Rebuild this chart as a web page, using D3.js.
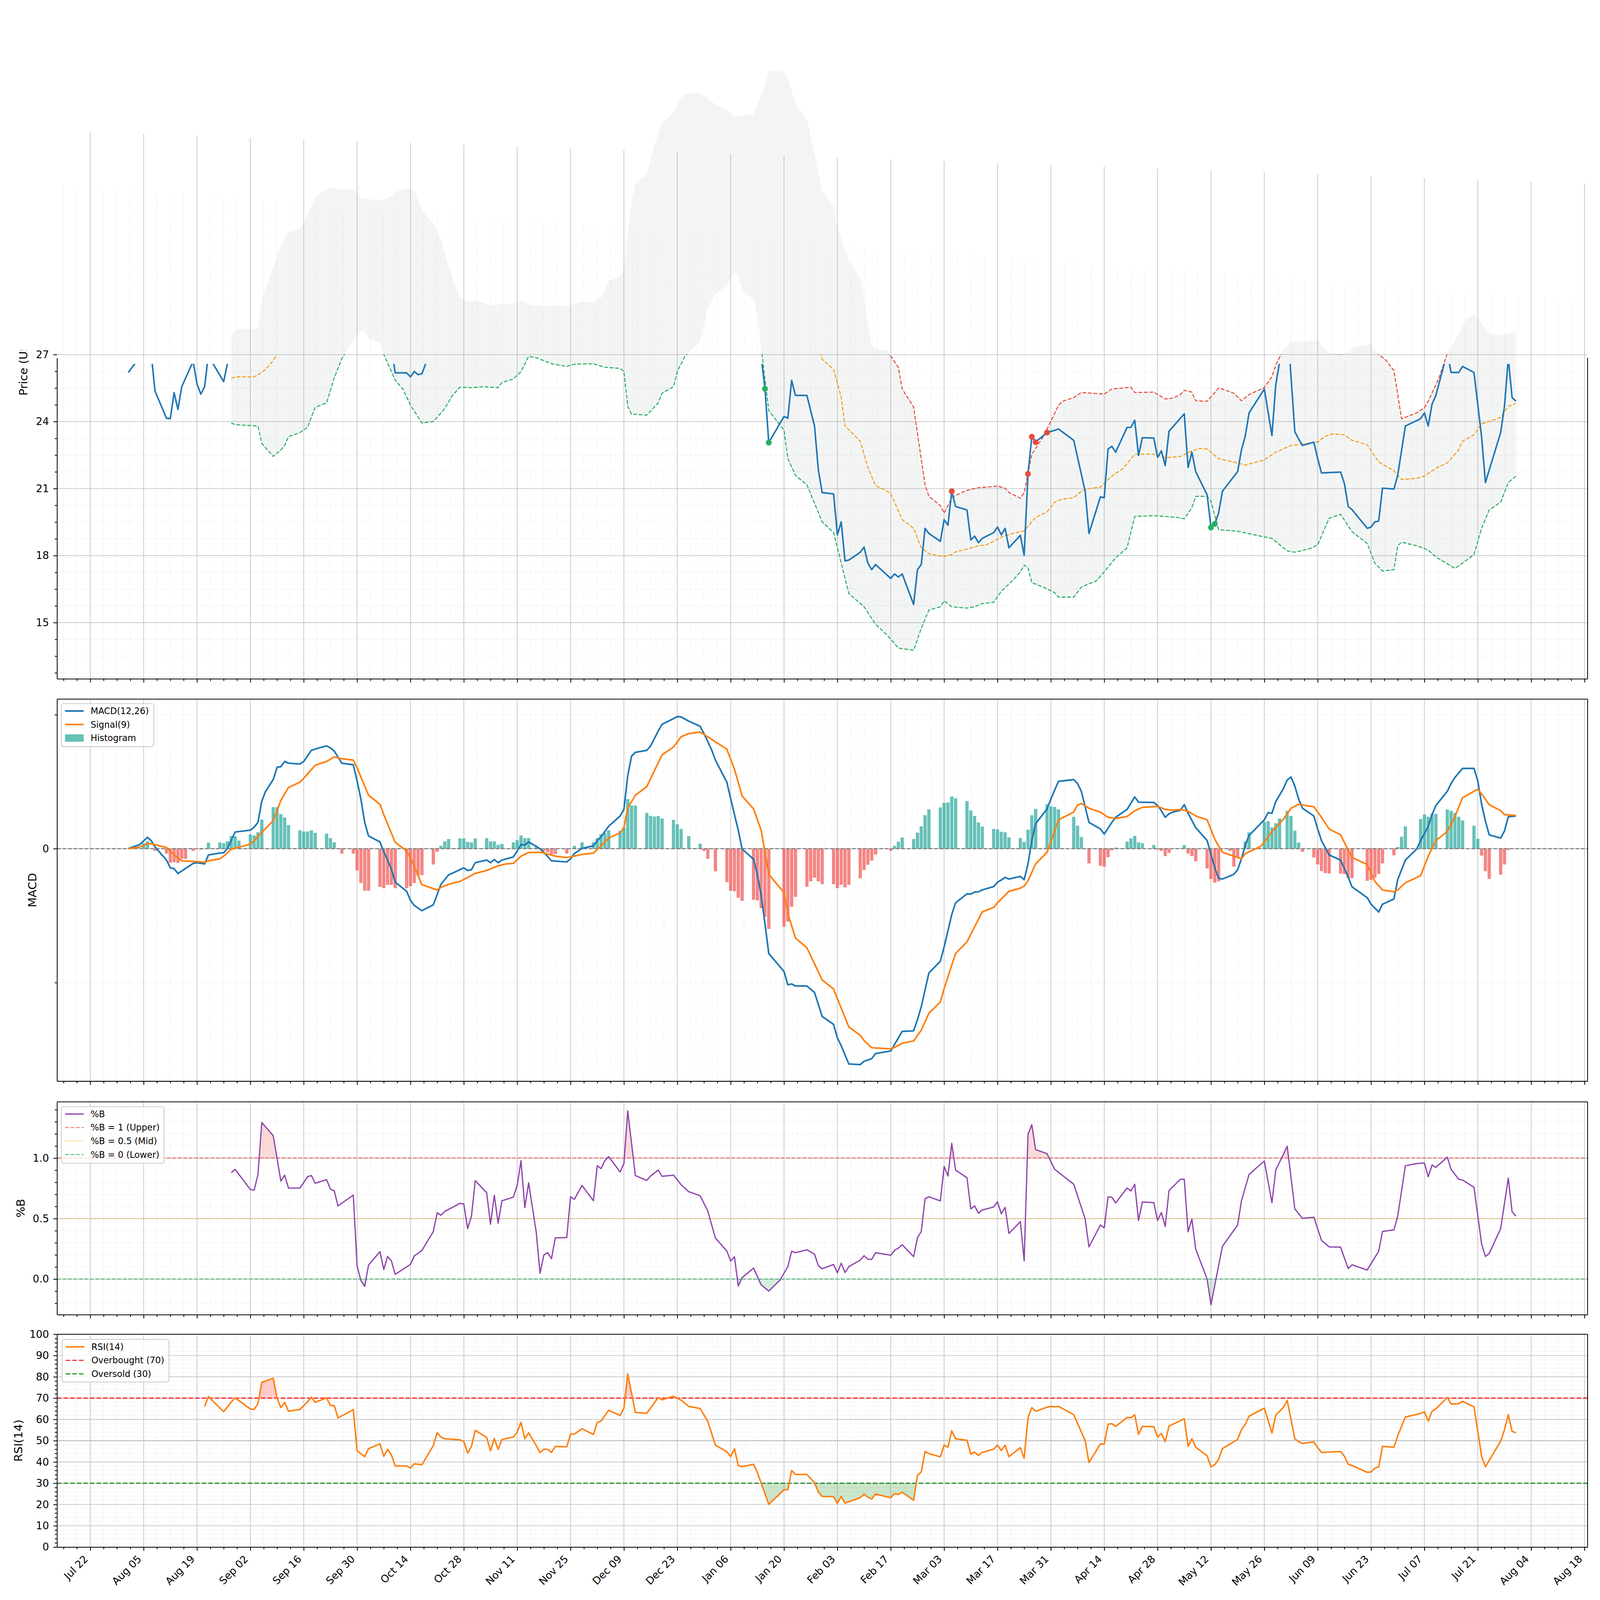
<!DOCTYPE html>
<html>
<head>
<meta charset="utf-8">
<title>Price, MACD, %B and RSI</title>
<script src="https://cdn.jsdelivr.net/npm/d3@7"></script>
<style>
  html, body { margin: 0; padding: 0; background: #fff; overflow: hidden; }
  svg { display: block; width: 100vw; height: 100vh; }
  text { font-family: "DejaVu Sans", sans-serif; }
</style>
</head>
<body>
<svg id="chart"></svg>
<script>
// every series is [day, value]; day counts from this Monday
const BASE_DATE = '2024-07-22'

const priceClose = [[10,26.20],[13,26.90],[16,27.00],[17,25.36],[20,24.15],[21,24.13],[22,25.30],[23,24.54],[24,25.56],[27,26.70],[28,25.69],[29,25.23],[30,25.56],[31,27.00],[32,26.65],[35,25.79],[36,26.60],[37,27.37],[38,27.73],[43,27.05],[44,27.57],[45,31.35],[48,32.20],[49,31.20],[50,30.00],[51,30.96],[52,30.20],[55,30.40],[57,31.84],[58,32.25],[59,32.10],[62,32.70],[63,32.20],[64,32.10],[65,31.20],[69,32.30],[70,28.60],[71,27.98],[72,27.75],[73,28.40],[76,28.95],[77,27.55],[78,28.00],[79,27.30],[80,26.18],[83,26.18],[84,26.00],[85,26.24],[86,26.10],[87,26.14],[90,27.50],[91,28.60],[92,28.35],[93,28.50],[97,28.00],[98,27.95],[99,27.14],[100,27.50],[101,28.70],[104,28.23],[105,27.26],[106,28.15],[107,27.23],[108,27.98],[111,28.19],[112,28.58],[113,29.37],[114,28.20],[115,28.75],[117,27.77],[118,26.92],[119,27.28],[120,27.30],[121,27.00],[122,27.45],[125,27.40],[126,28.36],[127,28.30],[129,28.73],[132,28.36],[133,29.30],[134,29.30],[135,29.83],[136,30.34],[139,30.00],[140,30.71],[141,36.90],[143,33.16],[146,33.09],[147,33.87],[149,35.40],[150,35.50],[153,36.10],[155,35.90],[157,35.45],[160,35.26],[162,34.30],[164,32.60],[167,31.90],[168,31.40],[169,31.96],[170,30.10],[171,30.00],[174,30.20],[176,26.90],[177,25.47],[178,23.06],[182,24.23],[183,24.15],[184,25.85],[185,25.17],[188,25.17],[190,23.80],[191,21.85],[192,20.82],[195,20.76],[196,18.93],[197,19.51],[198,17.76],[199,17.80],[202,18.15],[203,18.38],[204,17.66],[205,17.37],[206,17.60],[210,16.98],[211,17.18],[212,17.04],[213,17.18],[216,15.81],[217,17.37],[218,17.60],[219,19.22],[220,18.99],[223,18.64],[224,19.61],[225,19.36],[226,20.88],[227,20.20],[230,20.04],[231,18.70],[232,18.87],[233,18.58],[234,18.77],[237,19.03],[238,19.28],[239,18.93],[240,19.22],[241,18.35],[244,18.91],[245,18.01],[246,21.66],[247,23.32],[248,23.08],[251,23.51],[253,23.61],[254,23.67],[258,23.16],[261,20.88],[262,18.99],[265,20.63],[266,20.59],[267,22.77],[268,22.89],[269,22.63],[272,23.74],[273,23.74],[274,24.06],[275,22.48],[276,23.28],[279,23.26],[280,22.40],[281,22.69],[282,22.03],[283,23.57],[287,24.35],[288,21.95],[289,22.63],[290,21.76],[293,20.72],[294,19.26],[295,19.42],[296,19.90],[297,20.88],[301,21.76],[302,22.73],[303,23.35],[304,24.39],[308,25.46],[310,23.37],[311,25.65],[313,27.67],[314,28.50],[316,23.55],[317,23.22],[318,22.93],[321,23.08],[322,22.34],[323,21.70],[328,21.74],[329,21.23],[330,20.20],[331,20.06],[335,19.22],[336,19.28],[337,19.51],[338,19.55],[339,21.02],[342,20.98],[343,21.60],[345,23.80],[349,24.13],[350,24.39],[351,23.80],[352,24.78],[353,25.17],[356,27.10],[357,26.20],[359,26.20],[360,26.47],[363,26.20],[365,23.32],[366,21.27],[370,23.51],[371,24.68],[372,26.84],[373,25.07],[374,24.92]]

const upperBand = [[37,27.84],[38,28.13],[44,28.17],[45,29.46],[48,30.92],[51,32.28],[52,32.48],[55,32.67],[57,33.26],[59,34.04],[63,34.52],[65,34.39],[69,34.39],[71,34.00],[72,34.00],[76,33.88],[79,34.10],[80,34.29],[83,34.43],[85,34.33],[87,33.45],[90,32.87],[92,32.19],[94,30.92],[97,29.55],[99,29.40],[101,29.42],[105,29.22],[112,29.30],[113,29.44],[115,29.22],[122,29.18],[125,29.18],[129,29.36],[132,29.32],[134,29.55],[136,30.29],[139,30.49],[140,30.92],[142,33.84],[143,34.66],[146,35.07],[148,36.38],[150,37.35],[153,37.84],[155,38.52],[157,38.72],[160,38.72],[164,38.19],[167,37.94],[169,37.64],[170,37.70],[174,37.74],[175,38.19],[177,39.01],[178,39.69],[181,39.69],[182,39.59],[183,39.40],[185,38.23],[188,37.55],[190,35.99],[192,34.29],[195,33.65],[196,32.67],[199,31.21],[202,30.43],[204,28.48],[205,27.41],[206,27.25],[209,27.18],[212,26.43],[213,25.46],[216,24.64],[219,21.17],[220,20.66],[223,20.24],[224,19.90],[226,20.59],[228,20.78],[230,20.92],[233,21.04],[238,21.11],[240,21.02],[241,20.82],[244,20.57],[245,20.82],[247,22.54],[250,23.32],[254,24.72],[255,24.91],[258,25.07],[260,25.30],[263,25.27],[266,25.23],[268,25.46],[273,25.54],[274,25.30],[279,25.32],[282,25.01],[284,25.05],[286,25.21],[287,25.40],[289,25.32],[290,24.93],[293,24.91],[296,25.50],[297,25.46],[300,25.27],[302,24.93],[304,25.21],[308,25.52],[310,26.01],[311,26.53],[313,27.21],[315,27.60],[317,27.57],[322,27.64],[324,27.21],[325,27.06],[328,27.02],[330,27.12],[331,27.31],[336,27.47],[337,27.16],[340,26.73],[342,26.28],[344,24.13],[348,24.39],[350,24.62],[351,24.91],[353,25.65],[354,26.04],[356,27.06],[358,27.60],[361,28.58],[363,28.81],[365,28.42],[367,27.96],[370,27.84],[372,27.96],[374,27.99]]

const middleBand = [[37,25.93],[38,26.00],[43,26.00],[44,26.10],[46,26.34],[47,26.53],[48,26.73],[52,27.85],[56,28.30],[60,29.45],[64,30.20],[70,31.05],[76,30.70],[80,30.10],[84,29.55],[88,28.60],[92,28.25],[96,27.45],[100,27.45],[106,27.35],[112,27.75],[118,28.00],[125,27.83],[132,27.95],[138,28.40],[141,28.60],[146,29.68],[150,31.30],[155,32.50],[160,33.20],[165,34.00],[170,34.10],[175,33.50],[178,32.10],[182,31.60],[185,29.90],[188,29.40],[190,28.20],[192,26.79],[195,26.34],[197,25.10],[198,23.80],[200,23.47],[202,23.12],[204,21.95],[206,21.13],[208,20.98],[210,20.78],[213,19.61],[216,19.22],[218,18.35],[220,18.09],[222,18.01],[224,17.96],[226,18.05],[227,18.17],[230,18.29],[233,18.44],[235,18.48],[237,18.64],[239,18.83],[242,18.99],[245,19.11],[248,19.71],[251,19.96],[253,20.39],[255,20.53],[258,20.59],[260,20.88],[262,21.00],[265,21.07],[268,21.56],[271,21.91],[274,22.54],[279,22.54],[282,22.38],[286,22.44],[289,22.69],[291,22.79],[293,22.77],[296,22.34],[300,22.19],[303,22.05],[306,22.19],[308,22.28],[311,22.63],[315,22.93],[322,23.08],[324,23.35],[326,23.45],[329,23.41],[331,23.16],[335,22.96],[338,22.19],[342,21.80],[344,21.41],[348,21.46],[350,21.56],[353,21.91],[356,22.15],[359,22.73],[360,23.12],[363,23.41],[365,23.90],[368,24.06],[370,24.19],[372,24.68],[374,24.82]]

const lowerBand = [[37,23.94],[38,23.86],[44,23.80],[45,23.02],[48,22.44],[50,22.73],[51,22.93],[52,23.32],[55,23.51],[57,23.74],[59,24.64],[62,24.84],[64,25.95],[66,26.82],[69,27.60],[70,27.90],[71,28.05],[72,28.10],[73,27.70],[76,27.50],[77,27.00],[78,26.63],[80,25.85],[82,25.46],[84,24.74],[87,23.94],[90,24.00],[93,24.58],[95,25.17],[97,25.54],[100,25.52],[103,25.56],[107,25.52],[108,25.75],[111,25.91],[113,26.24],[115,26.92],[117,26.86],[121,26.59],[125,26.47],[127,26.57],[132,26.59],[135,26.43],[139,26.38],[140,26.24],[141,24.68],[142,24.33],[146,24.29],[149,24.84],[150,25.27],[153,25.56],[154,26.24],[156,26.92],[160,27.60],[162,29.07],[164,29.71],[167,30.10],[169,30.68],[170,30.53],[171,29.90],[174,29.46],[175,28.77],[176,27.30],[177,25.90],[178,24.49],[182,23.61],[183,22.34],[185,21.59],[188,21.17],[192,19.51],[195,19.03],[197,17.66],[199,16.30],[203,15.71],[206,14.93],[209,14.45],[212,13.86],[216,13.76],[218,14.74],[220,15.56],[223,15.71],[224,15.97],[226,15.71],[230,15.65],[232,15.71],[234,15.85],[237,15.91],[239,16.40],[242,16.89],[244,17.27],[245,17.57],[246,17.47],[247,16.79],[250,16.59],[253,16.34],[254,16.14],[258,16.14],[260,16.59],[264,16.88],[266,17.27],[269,17.90],[272,18.35],[274,19.75],[279,19.79],[285,19.71],[287,19.65],[289,20.14],[290,20.65],[293,20.66],[294,20.43],[296,19.16],[301,19.09],[307,18.87],[310,18.77],[314,18.21],[316,18.15],[320,18.31],[322,18.48],[325,19.67],[328,19.85],[331,19.07],[335,18.54],[337,17.66],[339,17.31],[342,17.37],[343,18.44],[344,18.60],[348,18.44],[351,18.25],[353,17.94],[358,17.43],[360,17.66],[363,18.05],[365,19.22],[367,20.04],[370,20.39],[372,21.27],[374,21.56]]

const sellSignals = [[226,20.88],[246,21.66],[247,23.32],[248,23.08],[251,23.51]]
const buySignals = [[177,25.47],[178,23.06],[294,19.26],[295,19.42]]

const macdLine = [[10,0],[13,0.031],[15,0.085],[16,0.060],[17,0.012],[20,-0.085],[21,-0.143],[22,-0.149],[23,-0.186],[27,-0.110],[28,-0.105],[30,-0.114],[31,-0.047],[34,-0.033],[35,-0.031],[36,0.002],[38,0.124],[42,0.138],[43,0.161],[44,0.196],[45,0.355],[46,0.428],[48,0.516],[49,0.607],[50,0.612],[51,0.651],[52,0.638],[55,0.632],[56,0.651],[58,0.734],[60,0.752],[62,0.767],[63,0.752],[64,0.729],[66,0.638],[69,0.626],[70,0.506],[71,0.370],[72,0.196],[73,0.095],[76,0.050],[77,-0.023],[78,-0.085],[79,-0.153],[80,-0.250],[83,-0.318],[84,-0.386],[85,-0.424],[87,-0.463],[90,-0.419],[91,-0.343],[92,-0.266],[94,-0.196],[97,-0.157],[98,-0.143],[99,-0.163],[100,-0.157],[101,-0.105],[104,-0.085],[105,-0.105],[106,-0.081],[107,-0.105],[108,-0.085],[111,-0.062],[112,-0.017],[113,0.031],[114,0.027],[115,0.050],[117,0.017],[118,-0.002],[119,-0.027],[121,-0.091],[125,-0.099],[126,-0.076],[127,-0.037],[129,0.002],[132,0.021],[133,0.060],[134,0.089],[135,0.128],[136,0.167],[139,0.244],[140,0.293],[141,0.545],[142,0.690],[143,0.719],[146,0.734],[147,0.767],[149,0.878],[150,0.928],[153,0.971],[154,0.986],[155,0.983],[157,0.952],[160,0.913],[161,0.859],[163,0.738],[164,0.661],[167,0.496],[168,0.374],[169,0.254],[170,0.138],[171,-0.002],[174,-0.079],[175,-0.192],[176,-0.347],[177,-0.560],[178,-0.783],[182,-0.917],[183,-1.016],[184,-1.010],[185,-1.025],[188,-1.025],[190,-1.074],[192,-1.252],[195,-1.312],[196,-1.413],[197,-1.471],[199,-1.607],[202,-1.612],[203,-1.587],[205,-1.568],[206,-1.529],[210,-1.510],[211,-1.461],[213,-1.364],[216,-1.360],[217,-1.277],[218,-1.180],[220,-0.928],[223,-0.841],[224,-0.734],[226,-0.492],[227,-0.405],[230,-0.337],[231,-0.339],[232,-0.324],[233,-0.322],[234,-0.308],[237,-0.283],[238,-0.250],[239,-0.234],[240,-0.215],[241,-0.227],[244,-0.207],[245,-0.231],[246,-0.114],[247,0.060],[248,0.186],[251,0.297],[252,0.370],[253,0.438],[254,0.502],[258,0.516],[259,0.486],[260,0.428],[262,0.196],[265,0.147],[266,0.109],[268,0.196],[269,0.234],[272,0.293],[274,0.386],[275,0.347],[279,0.345],[280,0.322],[281,0.283],[282,0.234],[283,0.260],[284,0.273],[286,0.287],[287,0.328],[288,0.264],[290,0.157],[293,0.060],[295,-0.143],[296,-0.221],[297,-0.227],[300,-0.192],[301,-0.157],[302,-0.076],[303,0.025],[304,0.099],[308,0.215],[309,0.269],[310,0.264],[311,0.351],[313,0.448],[314,0.512],[315,0.535],[316,0.467],[317,0.370],[318,0.302],[321,0.244],[322,0.147],[323,0.060],[325,-0.047],[328,-0.085],[330,-0.211],[331,-0.285],[335,-0.366],[336,-0.415],[338,-0.473],[339,-0.415],[342,-0.376],[343,-0.231],[345,-0.085],[348,-0.002],[349,0.060],[351,0.167],[352,0.254],[353,0.322],[356,0.428],[357,0.486],[358,0.531],[360,0.599],[363,0.599],[364,0.506],[365,0.331],[366,0.205],[367,0.103],[370,0.079],[371,0.132],[372,0.238],[374,0.244]]

const signalLine = [[10,0],[13,0.012],[15,0.037],[16,0.037],[20,0.008],[22,-0.047],[24,-0.091],[27,-0.095],[30,-0.101],[31,-0.091],[34,-0.076],[35,-0.056],[37,-0.004],[39,0.012],[42,0.033],[43,0.060],[45,0.122],[48,0.209],[49,0.283],[50,0.360],[52,0.457],[55,0.496],[56,0.525],[59,0.622],[62,0.651],[64,0.684],[66,0.671],[69,0.661],[70,0.603],[73,0.399],[76,0.331],[77,0.254],[80,0.047],[83,-0.017],[84,-0.066],[87,-0.269],[91,-0.308],[92,-0.289],[94,-0.266],[97,-0.244],[99,-0.215],[101,-0.184],[104,-0.163],[107,-0.128],[109,-0.114],[111,-0.110],[113,-0.056],[115,-0.029],[118,-0.027],[119,-0.033],[122,-0.056],[125,-0.066],[127,-0.056],[129,-0.043],[132,-0.033],[134,0.021],[136,0.079],[139,0.118],[140,0.157],[141,0.302],[143,0.399],[146,0.463],[149,0.641],[150,0.700],[153,0.758],[155,0.835],[157,0.859],[160,0.870],[162,0.835],[167,0.742],[169,0.593],[171,0.393],[174,0.297],[176,0.138],[178,-0.192],[182,-0.328],[183,-0.483],[185,-0.667],[188,-0.740],[190,-0.860],[192,-0.980],[195,-1.048],[197,-1.190],[199,-1.331],[202,-1.393],[203,-1.432],[205,-1.486],[210,-1.494],[211,-1.484],[213,-1.452],[216,-1.436],[218,-1.355],[220,-1.229],[223,-1.145],[224,-1.045],[227,-0.783],[230,-0.696],[231,-0.638],[234,-0.473],[237,-0.438],[238,-0.405],[241,-0.318],[244,-0.295],[245,-0.279],[246,-0.240],[248,-0.114],[251,-0.027],[252,0.050],[254,0.215],[258,0.273],[259,0.326],[260,0.337],[262,0.302],[265,0.273],[267,0.234],[269,0.225],[272,0.240],[274,0.283],[276,0.308],[280,0.316],[282,0.293],[284,0.287],[286,0.293],[288,0.279],[290,0.244],[293,0.215],[295,0.070],[297,-0.027],[300,-0.056],[302,-0.076],[303,-0.037],[307,0.016],[308,0.050],[310,0.128],[313,0.219],[315,0.302],[317,0.331],[321,0.312],[323,0.234],[325,0.147],[328,0.103],[331,-0.066],[335,-0.118],[337,-0.244],[339,-0.308],[342,-0.322],[343,-0.308],[345,-0.254],[349,-0.202],[351,-0.056],[353,0.060],[356,0.128],[358,0.238],[360,0.380],[363,0.428],[364,0.444],[365,0.409],[367,0.328],[370,0.283],[371,0.254],[374,0.248]]

const macdHist = [[14,0.041],[15,0.054],[17,-0.017],[20,-0.037],[21,-0.105],[22,-0.101],[23,-0.107],[24,-0.076],[25,-0.076],[27,-0.017],[29,-0.008],[31,0.045],[34,0.047],[35,0.041],[36,0.056],[37,0.095],[38,0.093],[39,0.060],[42,0.105],[43,0.099],[44,0.122],[45,0.217],[48,0.310],[49,0.310],[50,0.258],[51,0.233],[52,0.176],[55,0.137],[56,0.128],[57,0.128],[58,0.137],[59,0.118],[62,0.112],[63,0.079],[64,0.048],[66,-0.037],[69,-0.037],[70,-0.163],[71,-0.256],[72,-0.314],[73,-0.314],[76,-0.285],[77,-0.295],[78,-0.270],[79,-0.270],[80,-0.295],[83,-0.295],[84,-0.279],[85,-0.256],[86,-0.202],[87,-0.198],[90,-0.118],[91,-0.023],[92,0.021],[93,0.054],[94,0.072],[97,0.076],[98,0.076],[99,0.050],[100,0.047],[101,0.076],[104,0.079],[105,0.054],[106,0.054],[107,0.029],[108,0.035],[111,0.047],[112,0.064],[113,0.099],[114,0.079],[115,0.079],[117,0.021],[119,-0.017],[120,-0.027],[121,-0.041],[122,-0.041],[125,-0.037],[127,0.021],[129,0.047],[132,0.048],[133,0.079],[134,0.108],[135,0.118],[136,0.137],[139,0.133],[140,0.157],[141,0.370],[142,0.322],[143,0.322],[146,0.267],[147,0.244],[148,0.240],[149,0.244],[150,0.225],[153,0.215],[154,0.182],[155,0.147],[157,0.093],[160,0.037],[161,-0.017],[162,-0.076],[164,-0.169],[167,-0.250],[168,-0.314],[169,-0.318],[170,-0.366],[171,-0.390],[174,-0.382],[175,-0.386],[176,-0.444],[177,-0.508],[178,-0.599],[182,-0.583],[183,-0.545],[184,-0.434],[185,-0.360],[188,-0.285],[189,-0.244],[190,-0.217],[191,-0.244],[192,-0.265],[195,-0.265],[196,-0.295],[197,-0.270],[198,-0.289],[199,-0.270],[202,-0.221],[203,-0.159],[204,-0.120],[205,-0.089],[206,-0.043],[210,-0.017],[211,0.021],[212,0.052],[213,0.083],[216,0.072],[217,0.120],[218,0.167],[219,0.250],[220,0.293],[223,0.308],[224,0.341],[225,0.345],[226,0.390],[227,0.376],[230,0.355],[231,0.285],[232,0.244],[233,0.196],[234,0.165],[237,0.147],[238,0.143],[239,0.126],[240,0.122],[241,0.085],[244,0.079],[245,0.050],[246,0.141],[247,0.250],[248,0.297],[251,0.331],[252,0.316],[253,0.312],[254,0.293],[258,0.238],[259,0.171],[260,0.087],[262,-0.110],[265,-0.128],[266,-0.134],[267,-0.064],[268,-0.012],[269,0.008],[272,0.052],[273,0.076],[274,0.095],[275,0.047],[276,0.041],[279,0.027],[280,-0.008],[281,-0.017],[282,-0.056],[283,-0.031],[286,0.002],[287,0.027],[288,-0.037],[289,-0.056],[290,-0.095],[293,-0.147],[294,-0.227],[295,-0.254],[296,-0.244],[299,-0.017],[300,-0.134],[301,-0.066],[303,0.054],[304,0.122],[308,0.200],[309,0.205],[310,0.159],[311,0.190],[312,0.225],[314,0.283],[315,0.244],[316,0.134],[317,0.045],[318,-0.023],[321,-0.066],[322,-0.118],[323,-0.167],[324,-0.182],[325,-0.186],[328,-0.186],[329,-0.190],[330,-0.221],[331,-0.221],[335,-0.240],[336,-0.234],[337,-0.217],[338,-0.188],[339,-0.110],[342,-0.050],[343,0.012],[344,0.089],[345,0.166],[349,0.221],[350,0.254],[351,0.238],[352,0.260],[353,0.260],[356,0.292],[357,0.283],[358,0.267],[359,0.238],[360,0.211],[363,0.171],[364,0.074],[365,-0.052],[366,-0.168],[367,-0.226],[370,-0.194],[371,-0.118],[372,-0.010]]

const percentB = [[37,0.879],[38,0.907],[42,0.740],[43,0.735],[44,0.865],[45,1.294],[48,1.185],[49,0.998],[50,0.810],[51,0.859],[52,0.752],[55,0.752],[57,0.846],[58,0.856],[59,0.792],[62,0.822],[63,0.744],[64,0.729],[65,0.605],[69,0.694],[70,0.109],[71,-0.012],[72,-0.060],[73,0.115],[76,0.227],[77,0.079],[78,0.187],[79,0.151],[80,0.039],[84,0.121],[85,0.191],[87,0.236],[90,0.393],[91,0.547],[92,0.528],[93,0.559],[97,0.626],[98,0.620],[99,0.417],[100,0.520],[101,0.813],[104,0.713],[105,0.453],[106,0.692],[107,0.462],[108,0.647],[111,0.677],[112,0.774],[113,0.979],[114,0.590],[115,0.796],[117,0.387],[118,0.048],[119,0.200],[120,0.218],[121,0.169],[122,0.341],[125,0.343],[126,0.680],[127,0.659],[129,0.774],[132,0.647],[133,0.937],[134,0.913],[135,0.979],[136,1.012],[139,0.885],[140,0.955],[141,1.390],[143,0.855],[146,0.816],[147,0.852],[149,0.901],[150,0.849],[153,0.859],[155,0.780],[157,0.722],[160,0.689],[162,0.562],[164,0.339],[167,0.232],[168,0.149],[169,0.184],[170,-0.058],[171,0.012],[174,0.091],[176,-0.048],[178,-0.099],[181,-0.006],[183,0.103],[184,0.230],[185,0.218],[188,0.242],[190,0.206],[191,0.111],[192,0.085],[195,0.121],[196,0.052],[197,0.131],[198,0.054],[199,0.103],[202,0.157],[203,0.193],[204,0.163],[205,0.163],[206,0.218],[210,0.197],[211,0.238],[212,0.256],[213,0.284],[216,0.185],[217,0.342],[218,0.393],[219,0.665],[220,0.680],[223,0.646],[224,0.931],[225,0.852],[226,1.122],[227,0.901],[230,0.837],[231,0.580],[232,0.605],[233,0.544],[234,0.571],[237,0.596],[238,0.638],[239,0.540],[240,0.592],[241,0.377],[244,0.475],[245,0.151],[246,1.197],[247,1.276],[248,1.070],[251,1.037],[253,0.907],[258,0.784],[261,0.496],[262,0.266],[265,0.447],[266,0.423],[267,0.680],[268,0.677],[269,0.629],[272,0.753],[273,0.728],[274,0.784],[275,0.484],[276,0.637],[279,0.632],[280,0.484],[281,0.550],[282,0.435],[283,0.732],[286,0.825],[287,0.825],[288,0.391],[289,0.496],[290,0.248],[293,-0.001],[294,-0.212],[297,0.270],[301,0.447],[302,0.647],[304,0.865],[308,0.976],[310,0.631],[311,0.901],[314,1.098],[316,0.580],[318,0.502],[321,0.511],[323,0.320],[325,0.266],[328,0.264],[330,0.087],[331,0.118],[335,0.075],[338,0.230],[339,0.393],[342,0.407],[343,0.520],[345,0.937],[348,0.955],[350,0.959],[351,0.846],[352,0.943],[353,0.923],[356,1.008],[357,0.907],[359,0.825],[360,0.819],[363,0.759],[365,0.290],[366,0.187],[367,0.212],[370,0.417],[372,0.834],[373,0.556],[374,0.520]]

const rsi14 = [[30,66.1],[31,70.7],[35,63.6],[37,68.2],[38,70.1],[42,64.9],[43,64.7],[44,67.4],[45,77.4],[48,79.3],[49,70.1],[50,65.5],[51,68.0],[52,63.8],[55,64.7],[57,68.2],[58,70.5],[59,68.0],[62,70.1],[63,66.5],[64,66.5],[65,60.7],[69,64.6],[70,45.2],[72,42.5],[73,46.2],[76,48.5],[77,42.7],[78,45.9],[79,43.3],[80,38.1],[83,38.1],[84,37.2],[85,39.1],[87,38.7],[90,47.7],[91,53.7],[92,51.7],[93,50.9],[97,50.4],[98,49.6],[99,44.2],[100,47.3],[101,54.8],[104,51.5],[105,45.2],[106,51.0],[107,45.9],[108,50.6],[111,51.7],[112,54.0],[113,58.6],[114,50.9],[115,53.7],[117,47.7],[118,44.4],[119,46.0],[120,45.9],[121,44.5],[122,47.3],[125,47.1],[126,53.1],[127,53.1],[129,55.6],[132,52.9],[133,58.6],[134,59.2],[136,64.3],[139,61.8],[140,65.3],[141,81.4],[143,63.2],[146,62.9],[149,70.3],[150,69.2],[153,70.9],[155,69.0],[157,66.1],[160,65.1],[162,59.0],[164,47.9],[167,44.8],[168,42.5],[169,46.2],[170,38.3],[171,37.8],[174,38.9],[175,35.1],[178,20.1],[182,26.9],[183,26.9],[184,36.0],[185,34.1],[188,34.1],[190,30.3],[191,25.9],[192,23.8],[195,23.7],[196,20.5],[197,23.8],[198,20.7],[199,21.3],[202,23.2],[203,24.9],[204,23.4],[205,22.6],[206,24.9],[210,23.2],[211,25.1],[212,24.7],[213,25.8],[216,22.0],[217,33.6],[218,35.3],[219,44.9],[220,43.9],[223,42.4],[224,47.9],[225,46.9],[226,54.6],[227,50.9],[230,50.2],[231,43.7],[232,44.6],[233,43.1],[234,44.5],[237,46.0],[238,47.9],[239,45.4],[240,47.9],[241,42.5],[244,46.7],[245,41.7],[246,60.7],[247,65.5],[248,63.8],[251,65.7],[252,66.1],[253,65.9],[254,66.1],[258,62.2],[261,50.0],[262,39.7],[265,48.5],[266,48.4],[267,57.7],[268,58.0],[269,56.7],[272,60.9],[273,60.8],[274,62.2],[275,53.0],[276,56.7],[279,56.6],[280,51.7],[281,53.4],[282,49.5],[283,56.9],[286,59.4],[287,60.3],[288,47.4],[289,50.9],[290,46.9],[293,42.9],[294,37.7],[295,38.7],[296,41.2],[297,46.3],[301,50.6],[302,55.2],[303,57.7],[304,61.5],[308,65.3],[310,53.6],[311,61.9],[313,65.7],[314,68.9],[316,50.9],[317,49.5],[318,48.7],[321,49.4],[322,46.7],[323,44.5],[328,44.9],[329,42.7],[330,38.9],[331,38.3],[335,35.1],[336,35.3],[337,37.1],[338,37.7],[339,47.3],[342,46.9],[343,52.3],[345,61.1],[349,62.8],[350,63.6],[351,59.2],[352,63.8],[353,64.9],[356,70.3],[357,67.2],[359,67.4],[360,68.5],[363,65.9],[365,42.7],[366,37.7],[370,49.8],[371,55.1],[372,62.2],[373,54.4],[374,53.7]]

const priceTicks = [15, 18, 21, 24, 27]
const pctBTicks = [0, 0.5, 1]
const rsiTicks = [0, 10, 20, 30, 40, 50, 60, 70, 80, 90, 100]


const W = 4378, H = 4323
const left = 156, right = 4344
const base = Date.parse(BASE_DATE + 'T00:00:00Z')
const toDate = d => new Date(base + d * 864e5)

// every second Monday, with four minor steps between
const majorDates = d3.range(0, 393, 14).map(toDate)
const minorDates = d3.range(-7, 393, 3.5).filter(d => d % 14 !== 0).map(toDate)

let scX = d3.scaleUtc()
  .domain([toDate(-8.72), toDate(392.8)])
  .range([left, right])

const price = { top: 967, bottom: 1834, y: d3.scaleLinear().domain([12.485, 26.851]).range([1834, 967]) }
const macd = { top: 1889, bottom: 2921, y: d3.scaleLinear().domain([-1.735, 1.116]).range([2921, 1889]) }
const pctb = { top: 2977, bottom: 3552, y: d3.scaleLinear().domain([-0.294, 1.465]).range([3552, 2977]) }
const rsi = { top: 3605, bottom: 4180, y: d3.scaleLinear().domain([0, 100]).range([4180, 3605]) }

const GRID = '#cccccc', GRID_MINOR = '#dadada'

let svg = d3.select('#chart')
  .attr('viewBox', `0 0 ${W} ${H}`)
  .attr('preserveAspectRatio', 'none')
  .style('background-color', '#fff')

const defs = svg.append('defs')
const clipRect = (id, x, y, w, h) => defs.append('clipPath').attr('id', id)
  .append('rect').attr('x', x).attr('y', y).attr('width', w).attr('height', h)

clipRect('clip-price-line', left, 983, right - left, price.bottom - 983)
clipRect('clip-price-bands', left, 957, right - left, price.bottom - 957)
clipRect('clip-price-label', 0, 946, left, price.bottom - 946)
for (const [id, p] of [['macd', macd], ['pctb', pctb], ['rsi', rsi]]) {
  clipRect('clip-' + id, left, p.top, right - left, p.bottom - p.top)
}
clipRect('clip-pctb-up', left, pctb.top, right - left, pctb.y(1) - pctb.top)
clipRect('clip-pctb-down', left, pctb.y(0), right - left, pctb.bottom - pctb.y(0))
clipRect('clip-rsi-up', left, rsi.top, right - left, rsi.y(70) - rsi.top)
clipRect('clip-rsi-down', left, rsi.y(30), right - left, rsi.bottom - rsi.y(30))

const lineOf = p => d3.line().x(d => scX(toDate(d[0]))).y(d => p.y(d[1]))

function verticalGrid(g, p, majorTop, minorTop) {
  g.append('g').selectAll('line').data(minorDates).join('line')
    .attr('x1', d => scX(d)).attr('x2', d => scX(d))
    .attr('y1', d => minorTop ? minorTop(scX(d)) : p.top)
    .attr('y2', p.bottom)
    .attr('stroke', GRID_MINOR).attr('stroke-width', 1.4).attr('stroke-dasharray', '1.4,2.8')
  g.append('g').selectAll('line').data(majorDates).join('line')
    .attr('x1', d => scX(d)).attr('x2', d => scX(d))
    .attr('y1', d => majorTop ? majorTop(scX(d)) : p.top)
    .attr('y2', p.bottom)
    .attr('stroke', GRID).attr('stroke-width', 2.2)
}

function horizontalGrid(g, p, majors, minors) {
  g.append('g').selectAll('line').data(minors).join('line')
    .attr('x1', left).attr('x2', right)
    .attr('y1', d => p.y(d)).attr('y2', d => p.y(d))
    .attr('stroke', GRID_MINOR).attr('stroke-width', 1.4).attr('stroke-dasharray', '1.4,2.8')
  g.append('g').selectAll('line').data(majors).join('line')
    .attr('x1', left).attr('x2', right)
    .attr('y1', d => p.y(d)).attr('y2', d => p.y(d))
    .attr('stroke', GRID).attr('stroke-width', 2.2)
}

function axes(g, p, yMajor, yMinor, fmt, opts) {
  const styleAxis = a => {
    a.attr('font-size', 28).attr('font-family', '"DejaVu Sans", sans-serif')
    a.selectAll('line').attr('stroke-width', 2.2)
    a.select('.domain').attr('stroke-width', 2.2)
  }
  g.append('g').attr('transform', `translate(${left},0)`)
    .call(d3.axisLeft(p.y).tickValues(yMajor).tickFormat(fmt).tickSize(10).tickPadding(12).tickSizeOuter(0))
    .call(styleAxis)
  g.append('g').attr('transform', `translate(${left},0)`)
    .call(d3.axisLeft(p.y).tickValues(yMinor).tickFormat('').tickSize(6).tickSizeOuter(0))
    .call(styleAxis).call(a => a.select('.domain').remove())

  let xAx = g.append('g').attr('transform', `translate(0,${p.bottom})`)
    .call(d3.axisBottom(scX).tickValues(majorDates)
      .tickFormat(opts.labels ? d3.utcFormat('%b %d') : '').tickSize(10).tickSizeOuter(0))
    .call(styleAxis)
  if (opts.labels) {
    xAx.selectAll('text')
      .attr('y', 0).attr('dy', 0)
      .attr('text-anchor', 'end')
      .attr('transform', 'translate(-5,34) rotate(-45)')
  }
  g.append('g').attr('transform', `translate(0,${p.bottom})`)
    .call(d3.axisBottom(scX).tickValues(minorDates).tickFormat('').tickSize(6).tickSizeOuter(0))
    .call(styleAxis).call(a => a.select('.domain').remove())

  g.append('line').attr('x1', right).attr('x2', right).attr('y1', p.top).attr('y2', p.bottom)
    .attr('stroke', '#000').attr('stroke-width', 2.2)
  if (opts.top) {
    g.append('line').attr('x1', left).attr('x2', right).attr('y1', p.top).attr('y2', p.top)
      .attr('stroke', '#000').attr('stroke-width', 2.2)
  }
}

function yLabel(g, p, x, text, clip) {
  // the clip sits on a wrapper so it is not rotated with the text
  g.append('g').attr('clip-path', clip || null)
    .append('text')
    .attr('transform', `translate(${x},${(p.top + p.bottom) / 2}) rotate(-90)`)
    .attr('text-anchor', 'middle').attr('dy', '0.35em')
    .attr('font-size', 31)
    .text(text)
}

function legend(g, x, y, w, h, items) {
  const lg = g.append('g')
  lg.append('rect').attr('x', x).attr('y', y).attr('width', w).attr('height', h).attr('rx', 6)
    .attr('fill', '#fff').attr('fill-opacity', 0.8).attr('stroke', '#cccccc').attr('stroke-width', 2.2)
  items.forEach((it, i) => {
    const cy = y + 20 + i * 36.5
    if (it.patch) {
      lg.append('rect').attr('x', x + 10).attr('y', cy - 10).attr('width', 51).attr('height', 20)
        .attr('fill', it.color).attr('fill-opacity', it.opacity)
    } else {
      lg.append('line').attr('x1', x + 10).attr('x2', x + 61).attr('y1', cy).attr('y2', cy)
        .attr('stroke', it.color).attr('stroke-width', it.width)
        .attr('stroke-dasharray', it.dash || null).attr('stroke-opacity', it.opacity || 1)
    }
    lg.append('text').attr('x', x + 80).attr('y', cy).attr('dy', '0.35em')
      .attr('font-size', 24).text(it.label)
  })
}

// ---------- price panel ----------
let gP = svg.append('g')
verticalGrid(gP, price,
  x => 356 + (x - 247) * 0.03424,
  x => 501 + (x - 174) * 0.0754)
horizontalGrid(gP, price, priceTicks,
  d3.range(17, 36).filter(i => i % 4 !== 0).map(i => i * 0.75))

const bandPoly = upperBand.map(d => [scX(toDate(d[0])), price.y(d[1])])
  .concat(lowerBand.slice().reverse().map(d => [scX(toDate(d[0])), price.y(d[1])]))
gP.append('path').attr('d', d3.line()(bandPoly) + 'Z')
  .attr('fill', '#95a5a6').attr('fill-opacity', 0.11)

let gBands = gP.append('g').attr('clip-path', 'url(#clip-price-bands)')
;[[upperBand, '#e74c3c'], [middleBand, '#f39c12'], [lowerBand, '#27ae60']].forEach(([data, color]) => {
  gBands.append('path').attr('d', lineOf(price)(data))
    .attr('fill', 'none').attr('stroke', color).attr('stroke-width', 2.8)
    .attr('stroke-dasharray', '10.5,4.5')
})

let gLine = gP.append('g').attr('clip-path', 'url(#clip-price-line)')
gLine.append('path').attr('d', lineOf(price)(priceClose))
  .attr('fill', 'none').attr('stroke', '#1f77b4').attr('stroke-width', 4.2)
  .attr('stroke-linejoin', 'round')
gLine.selectAll('circle.sell').data(sellSignals).join('circle')
  .attr('class', 'sell')
  .attr('cx', d => scX(toDate(d[0]))).attr('cy', d => price.y(d[1])).attr('r', 8)
  .attr('fill', '#e74c3c')
gLine.selectAll('circle.buy').data(buySignals).join('circle')
  .attr('class', 'buy')
  .attr('cx', d => scX(toDate(d[0]))).attr('cy', d => price.y(d[1])).attr('r', 8)
  .attr('fill', '#27ae60')

axes(gP, price, priceTicks,
  d3.range(17, 36).filter(i => i % 4 !== 0).map(i => i * 0.75), d3.format('d'), { labels: false, top: false })
yLabel(gP, { top: 128, bottom: 1834 }, 64, 'Price (USD)', 'url(#clip-price-label)')

// ---------- MACD panel ----------
let gM = svg.append('g')
verticalGrid(gM, macd)
horizontalGrid(gM, macd, [0], [-1, 1])
let gMc = gM.append('g').attr('clip-path', 'url(#clip-macd)')
const barW = scX(toDate(0.85)) - scX(toDate(0))
gMc.selectAll('rect').data(macdHist).join('rect')
  .attr('x', d => scX(toDate(d[0])) - barW / 2)
  .attr('width', barW)
  .attr('y', d => Math.min(macd.y(d[1]), macd.y(0)))
  .attr('height', d => Math.abs(macd.y(d[1]) - macd.y(0)))
  .attr('fill', d => d[1] >= 0 ? '#26a69a' : '#ef5350')
  .attr('fill-opacity', 0.7)
gMc.append('line').attr('x1', left).attr('x2', right).attr('y1', macd.y(0)).attr('y2', macd.y(0))
  .attr('stroke', '#808080').attr('stroke-width', 2.8).attr('stroke-dasharray', '10.5,4.5')
gMc.append('path').attr('d', lineOf(macd)(macdLine))
  .attr('fill', 'none').attr('stroke', '#1f77b4').attr('stroke-width', 4.4).attr('stroke-linejoin', 'round')
gMc.append('path').attr('d', lineOf(macd)(signalLine))
  .attr('fill', 'none').attr('stroke', '#ff7f0e').attr('stroke-width', 4.4).attr('stroke-linejoin', 'round')
axes(gM, macd, [0], [-1, 1], d3.format('d'), { labels: false, top: true })
yLabel(gM, macd, 89, 'MACD')
legend(gM, 168, 1901, 253, 116, [
  { label: 'MACD(12,26)', color: '#1f77b4', width: 4.4 },
  { label: 'Signal(9)', color: '#ff7f0e', width: 4.4 },
  { label: 'Histogram', color: '#26a69a', opacity: 0.7, patch: true }
])

// ---------- %B panel ----------
let gB = svg.append('g')
verticalGrid(gB, pctb)
horizontalGrid(gB, pctb, pctBTicks, d3.range(-2, 15).filter(i => i % 5 !== 0).map(i => i / 10))
let gBc = gB.append('g').attr('clip-path', 'url(#clip-pctb)')
gBc.append('path').attr('clip-path', 'url(#clip-pctb-up)')
  .attr('d', d3.area().x(d => scX(toDate(d[0]))).y0(pctb.y(1)).y1(d => pctb.y(d[1]))(percentB))
  .attr('fill', '#e74c3c').attr('fill-opacity', 0.2)
gBc.append('path').attr('clip-path', 'url(#clip-pctb-down)')
  .attr('d', d3.area().x(d => scX(toDate(d[0]))).y0(pctb.y(0)).y1(d => pctb.y(d[1]))(percentB))
  .attr('fill', '#27ae60').attr('fill-opacity', 0.2)
;[[1, '#e74c3c', '10.5,4.5'], [0.5, '#f39c12', '2.8,4.6'], [0, '#27ae60', '10.5,4.5']].forEach(([v, c, dash]) => {
  gBc.append('line').attr('x1', left).attr('x2', right).attr('y1', pctb.y(v)).attr('y2', pctb.y(v))
    .attr('stroke', c).attr('stroke-opacity', 0.7).attr('stroke-width', 2.8).attr('stroke-dasharray', dash)
})
gBc.append('path').attr('d', lineOf(pctb)(percentB))
  .attr('fill', 'none').attr('stroke', '#8e44ad').attr('stroke-width', 3.4).attr('stroke-linejoin', 'round')
axes(gB, pctb, pctBTicks, d3.range(-2, 15).filter(i => i % 5 !== 0).map(i => i / 10),
  d3.format('.1f'), { labels: false, top: true })
yLabel(gB, pctb, 56, '%B')
legend(gB, 168, 2990, 281, 153, [
  { label: '%B', color: '#8e44ad', width: 3.4 },
  { label: '%B = 1 (Upper)', color: '#e74c3c', width: 2.8, dash: '10.5,4.5', opacity: 0.7 },
  { label: '%B = 0.5 (Mid)', color: '#f39c12', width: 2.8, dash: '2.8,4.6', opacity: 0.7 },
  { label: '%B = 0 (Lower)', color: '#27ae60', width: 2.8, dash: '10.5,4.5', opacity: 0.7 }
])

// ---------- RSI panel ----------
let gR = svg.append('g')
verticalGrid(gR, rsi)
horizontalGrid(gR, rsi, rsiTicks, d3.range(0, 101, 2).filter(v => v % 10 !== 0))
let gRc = gR.append('g').attr('clip-path', 'url(#clip-rsi)')
gRc.append('path').attr('clip-path', 'url(#clip-rsi-up)')
  .attr('d', d3.area().x(d => scX(toDate(d[0]))).y0(rsi.y(70)).y1(d => rsi.y(d[1]))(rsi14))
  .attr('fill', '#ff0000').attr('fill-opacity', 0.2)
gRc.append('path').attr('clip-path', 'url(#clip-rsi-down)')
  .attr('d', d3.area().x(d => scX(toDate(d[0]))).y0(rsi.y(30)).y1(d => rsi.y(d[1]))(rsi14))
  .attr('fill', '#008000').attr('fill-opacity', 0.2)
gRc.append('line').attr('x1', left).attr('x2', right).attr('y1', rsi.y(50)).attr('y2', rsi.y(50))
  .attr('stroke', '#808080').attr('stroke-opacity', 0.6).attr('stroke-width', 2.2).attr('stroke-dasharray', '2.2,3.6')
;[[70, '#ff0000'], [30, '#008000']].forEach(([v, c]) => {
  gRc.append('line').attr('x1', left).attr('x2', right).attr('y1', rsi.y(v)).attr('y2', rsi.y(v))
    .attr('stroke', c).attr('stroke-opacity', 0.8).attr('stroke-width', 3.4).attr('stroke-dasharray', '12.5,5.5')
})
gRc.append('path').attr('d', lineOf(rsi)(rsi14))
  .attr('fill', 'none').attr('stroke', '#ff7f0e').attr('stroke-width', 4).attr('stroke-linejoin', 'round')
axes(gR, rsi, rsiTicks, d3.range(0, 101, 2).filter(v => v % 10 !== 0), d3.format('d'), { labels: true, top: true })
yLabel(gR, rsi, 50, 'RSI(14)')
legend(gR, 170, 3619, 292, 115, [
  { label: 'RSI(14)', color: '#ff7f0e', width: 4 },
  { label: 'Overbought (70)', color: '#ff0000', width: 3.4, dash: '12.5,5.5', opacity: 0.8 },
  { label: 'Oversold (30)', color: '#008000', width: 3.4, dash: '12.5,5.5', opacity: 0.8 }
])
</script>
</body>
</html>
